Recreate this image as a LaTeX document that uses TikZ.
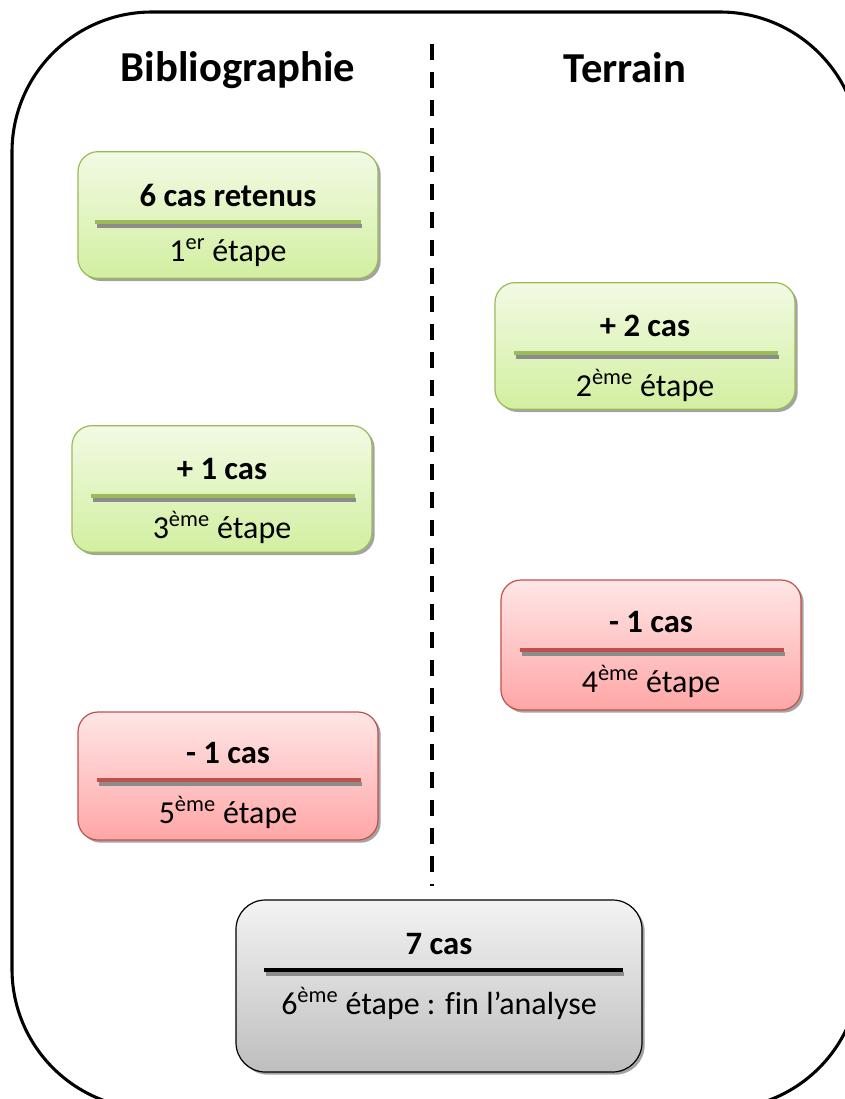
\documentclass[tikz,border=0pt]{standalone}
\usepackage{fontspec}
\setmainfont[Ligatures=CommonOff]{Carlito}
\usetikzlibrary{shadows,calc}

\definecolor{bordvert}{RGB}{155,187,89}
\definecolor{hautvert}{RGB}{242,250,228}
\definecolor{basvert}{RGB}{210,239,160}
\definecolor{bordrouge}{RGB}{192,80,77}
\definecolor{hautrouge}{RGB}{255,230,230}
\definecolor{basrouge}{RGB}{255,166,166}
\definecolor{hautgris}{RGB}{243,243,243}
\definecolor{basgris}{RGB}{190,190,190}

\begin{document}
\begin{tikzpicture}[x=0.75pt,y=-0.75pt]
\tikzstyle{every node}+=[inner sep=0pt]
\tikzstyle{etape}=[rounded corners=15pt, line width=0.9pt, minimum width=225pt, minimum height=95pt,
  drop shadow={shadow xshift=2pt, shadow yshift=-2pt, fill=black!45, opacity=0.8}]
\tikzstyle{vert}=[etape, draw=bordvert, top color=hautvert, bottom color=basvert]
\tikzstyle{rouge}=[etape, draw=bordrouge, top color=hautrouge, bottom color=basrouge]
\tikzstyle{gris}=[etape, draw=black, top color=hautgris, bottom color=basgris,
  rounded corners=22pt, minimum width=304.5pt, minimum height=129pt]
\tikzstyle{titre}=[font=\fontsize{24.5}{29}\selectfont\bfseries]
\tikzstyle{texte}=[font=\fontsize{24}{29}\selectfont]
\tikzstyle{entete}=[font=\fontsize{32}{38}\selectfont\bfseries]
\tikzstyle{ombre}=[line width=3.5pt, black!45]
\useasboundingbox (0,0) rectangle (845,1099);
% cadre
\draw [black, line width=2.3pt, rounded corners=105pt] (12,12) rectangle (860,1109);
\node [entete] (biblio) at (238,70) {Bibliographie};
\node [entete] (terrain) at (625,68) {Terrain};
\coordinate (haut) at (432,44);
\coordinate (bas) at (432,886);
\draw [black, line width=3pt, dash pattern=on 12pt off 9pt] (haut) -- (bas);
% etape 1
\node [vert] (b1) at (228,215) {};
\node [titre] (t1) at (228,195) {6 cas retenus};
\node [texte] (e1) at (228,253) {1\textsuperscript{er} étape};
\draw [ombre] ($(b1.west)+(20,11)$) -- ($(b1.east)+(-17,11)$);
\draw [bordvert, line width=3.5pt] ($(b1.west)+(18,7)$) -- ($(b1.east)+(-18,7)$);
% etape 2
\node [vert] (b2) at (645,346) {};
\node [titre] (t2) at (645,326) {+ 2 cas};
\node [texte] (e2) at (645,385) {2\textsuperscript{ème} étape};
\draw [ombre] ($(b2.west)+(22,11)$) -- ($(b2.east)+(-17,11)$);
\draw [bordvert, line width=3.5pt] ($(b2.west)+(20,7)$) -- ($(b2.east)+(-18,7)$);
% etape 3
\node [vert] (b3) at (222,489) {};
\node [titre] (t3) at (222,469) {+ 1 cas};
\node [texte] (e3) at (222,527) {3\textsuperscript{ème} étape};
\draw [ombre] ($(b3.west)+(22,11)$) -- ($(b3.east)+(-17,11)$);
\draw [bordvert, line width=3.5pt] ($(b3.west)+(20,7)$) -- ($(b3.east)+(-18,7)$);
% etape 4
\node [rouge, minimum height=97.5pt] (b4) at (651,645) {};
\node [titre] (t4) at (651,622) {- 1 cas};
\node [texte] (e4) at (651,681) {4\textsuperscript{ème} étape};
\draw [ombre] ($(b4.west)+(22,9)$) -- ($(b4.east)+(-17,9)$);
\draw [bordrouge, line width=3.5pt] ($(b4.west)+(20,5)$) -- ($(b4.east)+(-18,5)$);
% etape 5
\node [rouge, minimum height=96pt] (b5) at (228,776) {};
\node [titre] (t5) at (228,753) {- 1 cas};
\node [texte] (e5) at (228,812) {5\textsuperscript{ème} étape};
\draw [ombre] ($(b5.west)+(22,8)$) -- ($(b5.east)+(-17,8)$);
\draw [bordrouge, line width=3.5pt] ($(b5.west)+(20,4)$) -- ($(b5.east)+(-18,4)$);
% etape 6
\node [gris] (b6) at (439,986) {};
\node [titre] (t6) at (439,944) {7 cas};
\node [texte] (e6) at (439,1003) {6\textsuperscript{ème} étape : fin l’analyse};
\draw [ombre] ($(b6.west)+(31,-12)$) -- ($(b6.east)+(-19,-12)$);
\draw [black, line width=3.5pt] ($(b6.west)+(29,-16)$) -- ($(b6.east)+(-20,-16)$);
\end{tikzpicture}
\end{document}
